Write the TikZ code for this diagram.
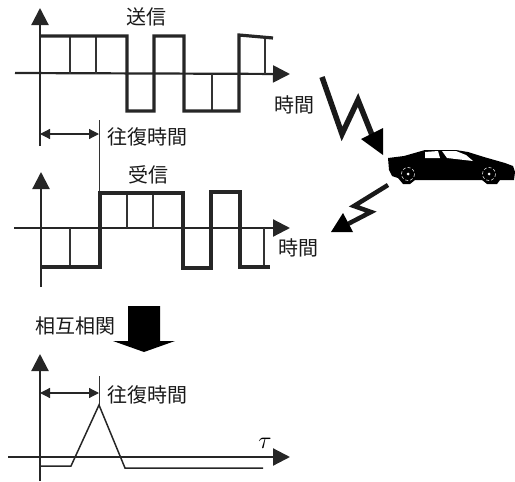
\documentclass[tikz,border=0pt]{standalone}
\usepackage{fontspec}
\newfontfamily\jpfont{Noto Sans CJK JP}
\usepackage{xcolor}
\usepackage{tikz}
\usetikzlibrary{arrows.meta, positioning}
\tikzset{
  axisline/.style={line width=2.2pt,draw=black!85,-{Triangle[length=17pt,width=17pt]}},
  signalline/.style={line width=3.2pt,draw=black!85,line join=miter},
  tickline/.style={line width=1.8pt,draw=black!80},
  markline/.style={line width=1pt,draw=black!80},
  spanline/.style={line width=1.2pt,draw=black!85,{Triangle[length=10pt,width=10pt]}-{Triangle[length=10pt,width=10pt]}},
  corrline/.style={line width=1.5pt,draw=black!85},
  jplabel/.style={font=\jpfont\fontsize{20}{20}\selectfont,inner sep=0pt,text=black!90},
  boltline/.style={line width=5.5pt,draw=black!90,line join=miter},
}
\begin{document}
\begin{tikzpicture}[x=1pt,y=-1pt,inner sep=0pt,outer sep=0pt]
\useasboundingbox (0,0) rectangle (515,482);
% send
\coordinate (txL) at (15,73);
\coordinate (txR) at (290,74);
\coordinate (txB) at (40,146);
\coordinate (txT) at (40,8);
\draw[axisline] (txL) -- (txR);
\draw[axisline] (txB) -- (txT);
\foreach \xpos in {70,96,265} \draw[tickline] (\xpos,36) -- (\xpos,74);
\draw[tickline] (212,74) -- (212,111);
\draw[signalline] (40,36) -- (127,36) -- (127,111) -- (154,111) -- (154,36) -- (184,36)
  -- (184,111) -- (239,111) -- (239,35) -- (273,38);
\node[jplabel] (txlab) at (146,17) {送信};
\node[jplabel,anchor=west] (txtime) at (274,105) {時間};
% round trip
\coordinate (spanA) at (40,134);
\coordinate (spanB) at (99,134);
\coordinate (markT) at (99,120);
\coordinate (markB) at (99,193);
\draw[spanline] (spanA) -- (spanB);
\draw[markline] (markT) -- (markB);
\node[jplabel,anchor=west] (spanlab) at (107,137) {往復時間};
% receive
\coordinate (rxL) at (14,228);
\coordinate (rxR) at (290,228);
\coordinate (rxB) at (41,287);
\coordinate (rxT) at (41,172);
\draw[axisline] (rxL) -- (rxR);
\draw[axisline] (rxB) -- (rxT);
\draw[tickline] (70,228) -- (70,267);
\foreach \xpos in {127,153} \draw[tickline] (\xpos,193) -- (\xpos,228);
\draw[tickline] (264,228) -- (264,267);
\draw[signalline] (41,267) -- (100,267) -- (100,193) -- (183,193) -- (183,268) -- (211,268)
  -- (211,192) -- (240,192) -- (240,267) -- (270,267);
\node[jplabel] (rxlab) at (148,175) {受信};
\node[jplabel,anchor=west] (rxtime) at (278,248) {時間};
% correlation
\node[jplabel,anchor=west] (corrlab) at (35,326) {相互相関};
\fill[black] (128,306) -- (160,306) -- (160,341) -- (175,341) -- (144,352) -- (113,341) -- (128,341) -- cycle;
\coordinate (corL) at (8,457);
\coordinate (corR) at (290,457);
\coordinate (corB) at (40,481);
\coordinate (corT) at (40,354);
\draw[axisline] (corL) -- (corR);
\draw[axisline] (corB) -- (corT);
\coordinate (peakA) at (40,393);
\coordinate (peakB) at (99,393);
\coordinate (peakT) at (99,376);
\coordinate (peakM) at (99,405);
\draw[spanline] (peakA) -- (peakB);
\draw[markline] (peakT) -- (peakM);
\draw[corrline] (40,466) -- (71,466) -- (peakM) -- (125,468) -- (263,468);
\node[jplabel,anchor=west] (peaklab) at (107,395) {往復時間};
\node[scale=2.4] (taulab) at (265,443) {$\tau$};
% bolts
\draw[boltline] (322,77) -- (342,134) -- (358,100) -- (372,135);
\fill[black] (361,139) -- (383,128) -- (383,155) -- cycle;
\draw[boltline,line width=4.5pt] (388,185) -- (354,206) -- (371,212) -- (344,226);
\fill[black] (343,213) -- (353,232) -- (331,232) -- cycle;
% car
\fill[black] (388,158) -- (404,156) -- (425,150) -- (442,150) -- (456,150) -- (468,152) -- (484,157)
  -- (505,163) -- (513,166) -- (515,172) -- (514,180) -- (500,180) -- (497,184) -- (487,184) -- (482,180)
  -- (415,180) -- (410,184) -- (403,184) -- (398,178) -- (392,176) -- (389,170) -- cycle;
\fill[white] (425,152) -- (438,151) -- (440,158) -- (425,158) -- cycle;
\fill[white] (442,151) -- (456,151) -- (466,155) -- (473,161) -- (447,158) -- cycle;
\draw[white,densely dashed,line width=0.5pt] (408,174) circle (6.5);
\draw[white,densely dashed,line width=0.5pt] (489,174) circle (6.5);
\fill[white] (408,174) circle (1.5);
\fill[white] (489,174) circle (1.5);
\end{tikzpicture}
\end{document}
